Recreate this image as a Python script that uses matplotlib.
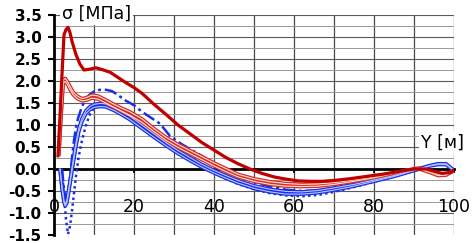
import matplotlib
matplotlib.use("Agg")
import matplotlib.pyplot as plt
import numpy as np

# ---- data ----
x_a = [1.0, 1.5, 2.0, 2.5, 3.0, 3.5, 4.0, 4.5, 5.0, 5.5, 6.5, 7.5, 9, 10.5, 12, 14, 16, 18, 20, 22,
       25, 28, 31, 34, 37, 40, 43, 46, 49, 52, 55, 58, 61, 64, 67, 70, 74, 78, 82, 86, 90, 93, 95, 97, 99, 100]
y_a = [0.3, 1.2, 2.15, 3.05, 3.17, 3.22, 3.1, 2.9, 2.75, 2.6, 2.38, 2.25, 2.27, 2.3, 2.26, 2.2, 2.08, 1.96, 1.85, 1.72,
       1.47, 1.24, 1.0, 0.8, 0.6, 0.43, 0.26, 0.12, 0.0, -0.1, -0.18, -0.23, -0.27, -0.28, -0.28, -0.26, -0.22, -0.17,
       -0.12, -0.06, 0.0, 0.0, -0.05, -0.1, -0.08, -0.02]

x_b = [1.2, 1.8, 2.3, 2.8, 3.3, 4.0, 4.7, 5.3, 6.0, 7.0, 8.0, 9.5, 11, 13, 15, 17, 19, 22, 25, 28, 31, 34, 37,
       40, 43, 46, 50, 54, 58, 62, 66, 70, 75, 80, 85, 88, 91, 94, 96, 98, 100]
y_b1 = [0.3, 1.3, 2.02, 2.06, 2.0, 1.88, 1.76, 1.7, 1.65, 1.6, 1.62, 1.68, 1.66, 1.57, 1.47, 1.38, 1.3, 1.14, 0.92,
        0.72, 0.56, 0.42, 0.28, 0.14, 0.01, -0.12, -0.22, -0.29, -0.33, -0.35, -0.34, -0.31, -0.25, -0.18, -0.09,
        -0.03, 0.02, -0.05, -0.12, -0.12, -0.03]
y_b2 = [0.3, 1.25, 1.95, 1.99, 1.93, 1.81, 1.7, 1.64, 1.59, 1.55, 1.56, 1.61, 1.59, 1.5, 1.4, 1.31, 1.22, 1.06,
        0.85, 0.65, 0.49, 0.35, 0.21, 0.07, -0.06, -0.18, -0.28, -0.35, -0.39, -0.4, -0.39, -0.35, -0.28, -0.2,
        -0.1, -0.04, 0.01, -0.08, -0.15, -0.14, -0.04]

x_d = [1.5, 2.0, 2.5, 2.8, 3.2, 3.7, 4.2, 4.8, 5.5, 6.2, 7.0, 8.0, 9.0, 10, 11.5, 13, 15, 17, 19, 22, 25, 28,
       31, 34, 37, 40, 43, 46, 50, 54, 58, 62, 66, 70, 75, 80, 85, 88, 91, 94, 96, 98, 100]
y_d1 = [0.0, -0.4, -0.72, -0.8, -0.72, -0.45, -0.15, 0.2, 0.6, 0.92, 1.15, 1.33, 1.42, 1.47, 1.49, 1.48, 1.4,
        1.3, 1.2, 1.0, 0.8, 0.6, 0.42, 0.26, 0.1, -0.03, -0.15, -0.26, -0.38, -0.46, -0.51, -0.52, -0.49, -0.43,
        -0.35, -0.25, -0.15, -0.07, 0.0, 0.08, 0.12, 0.12, -0.03]
y_d2 = [0.0, -0.45, -0.76, -0.84, -0.78, -0.52, -0.22, 0.13, 0.52, 0.85, 1.08, 1.26, 1.35, 1.4, 1.42, 1.41, 1.33,
        1.23, 1.12, 0.92, 0.72, 0.53, 0.35, 0.19, 0.04, -0.09, -0.21, -0.32, -0.44, -0.52, -0.57, -0.57, -0.54,
        -0.48, -0.39, -0.28, -0.17, -0.09, -0.01, 0.07, 0.1, 0.1, -0.04]

x_e = [2.0, 2.5, 3.0, 3.5, 4.0, 4.5, 5.0, 5.5, 6.2, 7.0, 8.0, 9.0, 10, 11.5, 13, 15, 17, 19, 22, 25, 28, 31,
       34, 37, 40, 43, 46, 50, 54, 58, 62, 66, 70, 75, 80, 85, 88, 91, 94, 96, 98, 100]
y_e = [-0.05, -0.6, -1.15, -1.48, -1.3, -0.95, -0.55, -0.15, 0.3, 0.65, 1.0, 1.25, 1.38, 1.45, 1.45, 1.38, 1.28,
       1.17, 0.97, 0.76, 0.56, 0.37, 0.2, 0.05, -0.09, -0.22, -0.34, -0.46, -0.55, -0.6, -0.62, -0.59, -0.52,
       -0.41, -0.29, -0.17, -0.09, -0.01, 0.07, 0.12, 0.11, -0.02]

x_c = [2.0, 2.5, 3.0, 3.5, 4.0, 4.5, 5.0, 5.5, 6.0, 7.0, 8.0, 9.0, 10, 11.5, 13, 14.5, 16, 18, 20, 22, 24, 26.5,
       29, 32, 35, 38, 41, 44, 47, 50, 54, 58, 62, 66, 70, 75, 80, 85, 88, 91, 94, 96, 98, 100]
y_c = [0.0, -0.45, -0.75, -0.6, -0.2, 0.25, 0.65, 0.95, 1.15, 1.42, 1.6, 1.7, 1.76, 1.8, 1.8, 1.77, 1.68, 1.55,
       1.45, 1.3, 1.18, 1.03, 0.75, 0.56, 0.4, 0.24, 0.08, -0.06, -0.18, -0.3, -0.4, -0.47, -0.5, -0.49, -0.44,
       -0.35, -0.24, -0.13, -0.06, 0.01, 0.08, 0.12, 0.1, -0.02]

x_ticks = [0, 20, 40, 60, 80, 100]
y_ticks = [-1.5, -1.0, -0.5, 0.0, 0.5, 1.0, 1.5, 2.0, 2.5, 3.0, 3.5]
x_grid = np.arange(10, 101, 10)
y_grid = np.arange(-1.25, 3.51, 0.25)

# ---- figure ----
W, H = 473, 243
fig = plt.figure(figsize=(W / 100, H / 100), dpi=100)
ax = fig.add_axes([54 / W, 1 - 235 / H, 400 / W, (235 - 15) / H])
ax.set_xlim(0, 100)
ax.set_ylim(-1.5, 3.5)

for s in ['top', 'right']:
    ax.spines[s].set_visible(False)
ax.spines['left'].set_linewidth(2)
ax.spines['left'].set_zorder(5)
ax.spines['bottom'].set_position(('data', 0))
ax.spines['bottom'].set_linewidth(2)
ax.spines['bottom'].set_zorder(2.5)

ax.set_xticks(x_ticks)
ax.set_yticks(y_ticks)
ax.tick_params(axis='x', which='major', direction='out', length=3, width=1.2, pad=18, labelsize=12.5)
ax.tick_params(axis='y', which='major', direction='out', length=4, width=1.5, pad=5, labelsize=11)
ax.set_xticklabels([str(v) for v in x_ticks])
ax.set_yticklabels([f"{v:.1f}" for v in y_ticks], fontweight='bold')

# grid lines
for gx in x_grid:
    ax.axvline(gx, color='#4a4a4a', lw=0.9, alpha=1, zorder=1)
for gy in y_grid:
    major = abs(gy * 2 - round(gy * 2)) < 1e-6
    ax.axhline(gy, color='#5a5a5a' if major else '#999999', lw=0.8 if major else 0.7, alpha=1, zorder=1)


def outlined(x, y, outer, inner):
    ax.plot(x, y, color=outer, lw=2.6, solid_capstyle='butt', zorder=3)
    ax.plot(x, y, color=inner, lw=0.8, zorder=3.1)


outlined(x_d, y_d2, '#1a2ee8', '#b8c8ff')
outlined(x_d, y_d1, '#1a2ee8', '#b8c8ff')
ax.plot(x_e, y_e, color='#1a2ee8', lw=1.8, ls=(0, (1, 1.3)), zorder=3)
ax.plot(x_c, y_c, color='#1a2ee8', lw=1.8, ls=(0, (5, 1.5, 1.2, 1.5)), zorder=3)
outlined(x_b, y_b2, '#d42a2a', '#ffe4d0')
outlined(x_b, y_b1, '#d42a2a', '#ffe4d0')
ax.plot(x_a, y_a, color='#c00000', lw=2.3, zorder=4)

fig.text(62 / W, 1 - 14 / H, 'σ [МПа]', fontsize=12.5, ha='left', va='center', zorder=10,
         bbox=dict(facecolor='white', edgecolor='none', pad=1.5))
fig.text(421 / W, 1 - 143 / H, 'Y [м]', fontsize=12.5, ha='left', va='center', zorder=10,
         bbox=dict(facecolor='white', edgecolor='none', pad=1.5))

fig.savefig('out.png', dpi=100)
